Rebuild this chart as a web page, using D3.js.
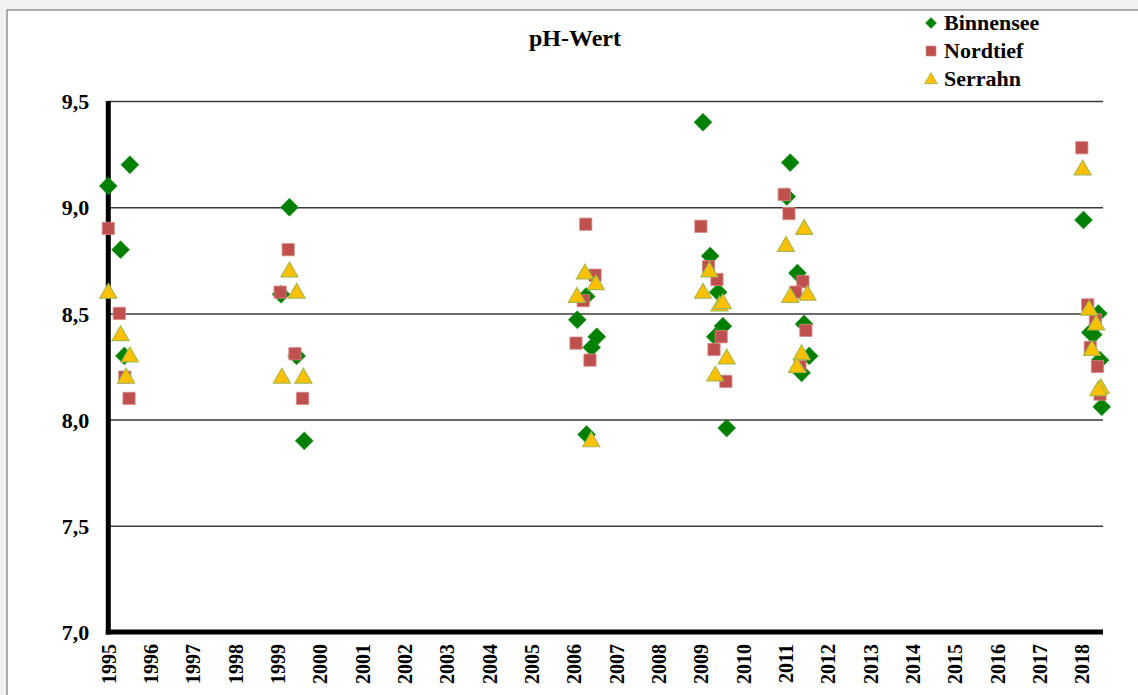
<!DOCTYPE html>
<html>
<head>
<meta charset="utf-8">
<script src="https://cdnjs.cloudflare.com/ajax/libs/d3/7.8.5/d3.min.js"></script>
<style>
  html, body { margin: 0; padding: 0; background: #f0f0f0; }
  svg { display: block; }
  text { font-family: "Liberation Serif", "Times New Roman", serif; font-weight: bold; fill: #000; }
</style>
</head>
<body>
<svg id="chart" width="1138" height="695"></svg>
<script>
// ---- Data (pH values, x = fractional sampling year) ----
const title = "pH-Wert";
const seriesNames = ["Binnensee", "Nordtief", "Serrahn"];
const yearTicks = d3.range(1995, 2019);
const yTicks = [7.0, 7.5, 8.0, 8.5, 9.0, 9.5];

const binnenseeYears  = [1995.00, 1995.51, 1995.29, 1995.38, 1999.28, 1999.08, 1999.45, 1999.63,
                         2006.29, 2006.08, 2006.54, 2006.42, 2006.30,
                         2009.05, 2009.22, 2009.41, 2009.52, 2009.34, 2009.61,
                         2011.11, 2011.03, 2011.28, 2011.44, 2011.56, 2011.38,
                         2018.04, 2018.39, 2018.20, 2018.27, 2018.43, 2018.47];
const binnenseeValues = [9.10, 9.20, 8.80, 8.30, 9.00, 8.59, 8.30, 7.90,
                         8.58, 8.47, 8.39, 8.34, 7.93,
                         9.40, 8.77, 8.60, 8.44, 8.39, 7.96,
                         9.21, 9.05, 8.69, 8.45, 8.30, 8.22,
                         8.94, 8.50, 8.41, 8.40, 8.28, 8.06];

const nordtiefYears  = [1995.00, 1995.26, 1995.39, 1995.49, 1999.25, 1999.06, 1999.41, 1999.59,
                        2006.28, 2006.50, 2006.22, 2006.05, 2006.38,
                        2009.00, 2009.18, 2009.38, 2009.48, 2009.31, 2009.59,
                        2010.97, 2011.08, 2011.41, 2011.24, 2011.48, 2011.34,
                        2018.00, 2018.14, 2018.32, 2018.20, 2018.37, 2018.43];
const nordtiefValues = [8.90, 8.50, 8.20, 8.10, 8.80, 8.60, 8.31, 8.10,
                        8.92, 8.68, 8.56, 8.36, 8.28,
                        8.91, 8.72, 8.66, 8.39, 8.33, 8.18,
                        9.06, 8.97, 8.65, 8.60, 8.42, 8.25,
                        9.28, 8.54, 8.47, 8.34, 8.25, 8.12];

const serrahnYears  = [1995.00, 1995.29, 1995.51, 1995.42, 1999.28, 1999.45, 1999.10, 1999.61,
                       2006.26, 2006.52, 2006.07, 2006.41,
                       2009.20, 2009.05, 2009.44, 2009.52, 2009.61, 2009.34,
                       2011.44, 2011.01, 2011.11, 2011.52, 2011.38, 2011.27,
                       2018.02, 2018.17, 2018.34, 2018.24, 2018.45, 2018.39];
const serrahnValues = [8.60, 8.40, 8.30, 8.20, 8.70, 8.60, 8.20, 8.20,
                       8.69, 8.64, 8.58, 7.90,
                       8.70, 8.60, 8.54, 8.55, 8.29, 8.21,
                       8.90, 8.82, 8.58, 8.59, 8.31, 8.25,
                       9.18, 8.52, 8.45, 8.33, 8.15, 8.14];

// ---- Layout ----
const svg = d3.select("#chart");
const W = 1138, H = 695;
const plotLeft = 108.3, plotRight = 1103, plotTop = 101, plotBottom = 632;

const x = d3.scaleLinear().domain([1995, 2018.5]).range([plotLeft, plotRight]);
const y = d3.scaleLinear().domain([7.0, 9.5]).range([plotBottom, plotTop]);

// frame
svg.append("rect").attr("x", 7).attr("y", 10).attr("width", W + 10).attr("height", H + 10)
  .attr("fill", "#fff").attr("stroke", "#7a7a7a").attr("stroke-width", 1.2);

// title
svg.append("text").attr("x", 575).attr("y", 46).attr("text-anchor", "middle")
  .style("font-size", "24px").text(title);

// gridlines
const fmt = v => d3.format(".1f")(v).replace(".", ",");
const grid = svg.append("g").attr("transform", `translate(${plotLeft},0)`)
  .call(d3.axisLeft(y).tickValues(yTicks.filter(v => v > 7)).tickSize(-(plotRight - plotLeft)).tickFormat(""));
grid.select(".domain").remove();
grid.selectAll(".tick line").attr("stroke", "#3a3a3a").attr("stroke-width", 1.5);

// y axis labels
const yAxis = svg.append("g").attr("transform", `translate(${plotLeft},0)`)
  .call(d3.axisLeft(y).tickValues(yTicks).tickSize(0).tickPadding(19).tickFormat(fmt));
yAxis.select(".domain").remove();
yAxis.selectAll("text").style("font-size", "22px").style("font-family", "Liberation Serif").style("font-weight", "bold")
  .attr("dy", "0.35em");

// x axis labels (rotated)
const xAxis = svg.append("g").attr("transform", `translate(0,${plotBottom})`)
  .call(d3.axisBottom(x).tickValues(yearTicks).tickSize(0).tickFormat(d3.format("d")));
xAxis.select(".domain").remove();
xAxis.selectAll("text")
  .style("font-size", "20px").style("font-family", "Liberation Serif").style("font-weight", "bold")
  .attr("text-anchor", "end").attr("transform", "rotate(-90)")
  .attr("x", -12).attr("y", 0).attr("dy", "0.35em");

// thick axis lines
svg.append("line").attr("x1", plotLeft).attr("x2", plotLeft).attr("y1", plotTop).attr("y2", plotBottom + 2.5)
  .attr("stroke", "#000").attr("stroke-width", 5);
svg.append("line").attr("x1", plotLeft - 2.5).attr("x2", plotRight).attr("y1", plotBottom).attr("y2", plotBottom)
  .attr("stroke", "#000").attr("stroke-width", 5);

// symbols
const styles = {
  Binnensee: { sym: d3.symbol().type(d3.symbolSquare).size(160), rot: 45, fill: "#008000", stroke: "#1f8a1f", sw: 0.6 },
  Nordtief:  { sym: d3.symbol().type(d3.symbolSquare).size(150), rot: 0, fill: "#C0504D", stroke: "#d38b89", sw: 0.8 },
  Serrahn:   { sym: d3.symbol().type(d3.symbolTriangle).size(125), rot: 0, fill: "#FFC000", stroke: "#a8b84a", sw: 1.2 }
};

const series = [
  { name: "Binnensee", years: binnenseeYears, values: binnenseeValues },
  { name: "Nordtief", years: nordtiefYears, values: nordtiefValues },
  { name: "Serrahn", years: serrahnYears, values: serrahnValues }
];

series.forEach(s => {
  const st = styles[s.name];
  const pts = s.years.map((yr, i) => ({ yr, v: s.values[i] }));
  svg.append("g").selectAll("path").data(pts).join("path")
    .attr("d", st.sym)
    .attr("transform", d => `translate(${x(d.yr)},${y(d.v) + (s.name === "Serrahn" ? 1 : 0)}) rotate(${st.rot})`)
    .attr("fill", st.fill).attr("stroke", st.stroke).attr("stroke-width", st.sw);
});

// legend
const legendSyms = {
  Binnensee: d3.symbol().type(d3.symbolSquare).size(60),
  Nordtief: d3.symbol().type(d3.symbolSquare).size(100),
  Serrahn: d3.symbol().type(d3.symbolTriangle).size(70)
};
const lg = svg.append("g");
seriesNames.forEach((n, i) => {
  const cy = 23 + i * 28;
  const st = styles[n];
  lg.append("path").attr("d", legendSyms[n])
    .attr("transform", `translate(931,${cy + (n === "Serrahn" ? 1 : 0)}) rotate(${st.rot})`)
    .attr("fill", st.fill).attr("stroke", st.stroke).attr("stroke-width", st.sw * 0.8);
  lg.append("text").attr("x", 944).attr("y", cy).attr("dy", "0.33em")
    .style("font-size", "22px").text(n);
});
</script>
</body>
</html>
